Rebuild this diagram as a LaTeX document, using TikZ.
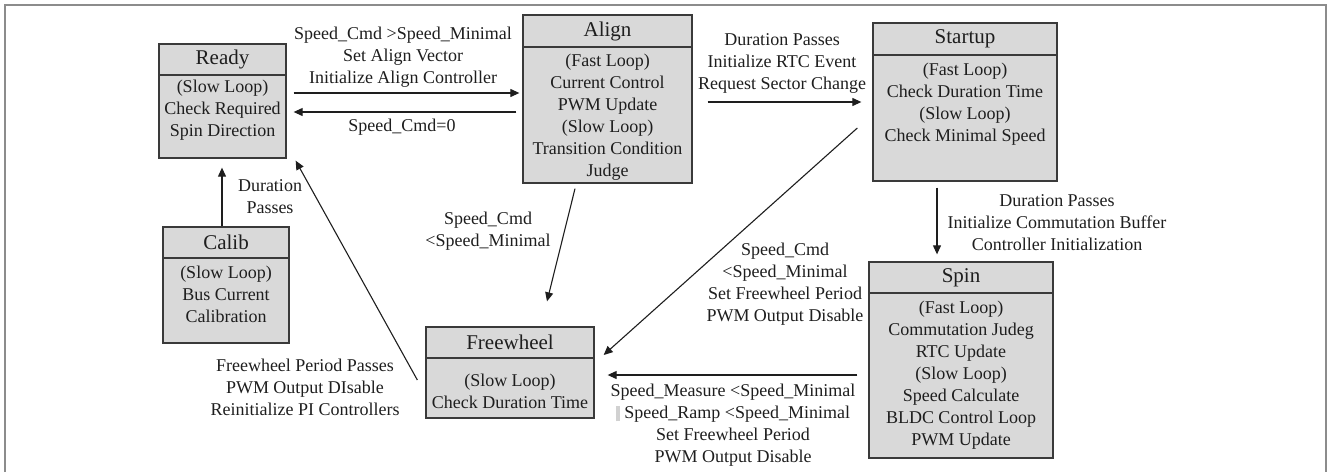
\documentclass[tikz,border=0pt]{standalone}
\usepackage{fontspec}
\setmainfont{Liberation Serif}
\usetikzlibrary{calc,arrows.meta}
\definecolor{boxfill}{HTML}{D9D9D9}
\definecolor{boxline}{HTML}{3A3A3A}
\definecolor{txt}{HTML}{1E1E1E}
\definecolor{framecol}{HTML}{8C8C8C}
\begin{document}
\begin{tikzpicture}[x=1pt,y=-1pt,
  statebox/.style={draw=boxline, fill=boxfill, line width=1.3pt, inner sep=0pt, rectangle},
  divider/.style={draw=boxline, line width=2pt},
  title/.style={font=\fontsize{21}{24}\selectfont, text=txt, inner sep=0pt},
  body/.style={font=\fontsize{18}{22}\selectfont, text=txt, align=center, inner sep=0pt},
  lbl/.style={font=\fontsize{18}{22}\selectfont, text=txt, align=center, inner sep=0pt},
  arr/.style={draw=txt, line width=1.1pt, -{Triangle[length=9pt,width=8pt]}},
  framestyle/.style={draw=framecol, line width=1.5pt},
]
\useasboundingbox (0,0) rectangle (1328,472);
\draw[framestyle] (5,472) -- (5,5) -- (1326,5) -- (1326,472);

% state boxes
\node[statebox, minimum width=127pt, minimum height=114pt] (ready) at (222.5,101) {};
\node[statebox, minimum width=169pt, minimum height=168pt] (align) at (607.5,99) {};
\node[statebox, minimum width=184pt, minimum height=158pt] (startup) at (965,102) {};
\node[statebox, minimum width=126pt, minimum height=116pt] (calib) at (226,285) {};
\node[statebox, minimum width=168pt, minimum height=91pt] (freewheel) at (510,372.5) {};
\node[statebox, minimum width=184pt, minimum height=196pt] (spin) at (961,360) {};

% header dividers
\draw[divider] (ready.west |- 0,75) -- (ready.east |- 0,75);
\draw[divider] (align.west |- 0,47) -- (align.east |- 0,47);
\draw[divider] (startup.west |- 0,55) -- (startup.east |- 0,55);
\draw[divider] (calib.west |- 0,258) -- (calib.east |- 0,258);
\draw[divider] (freewheel.west |- 0,358) -- (freewheel.east |- 0,358);
\draw[divider] (spin.west |- 0,293) -- (spin.east |- 0,293);

% titles
\node[title] (readyT) at (222.5,59.5) {Ready};
\node[title] (alignT) at (607.5,31) {Align};
\node[title] (startupT) at (965,39) {Startup};
\node[title] (calibT) at (226,242.5) {Calib};
\node[title] (freewheelT) at (510,342.5) {Freewheel};
\node[title] (spinT) at (961,277.5) {Spin};

% bodies
\node[body] (readyB) at (222.5,110) {(Slow Loop)\\Check Required\\Spin Direction};
\node[body] (alignB) at (607.5,117) {(Fast Loop)\\Current Control\\PWM Update\\(Slow Loop)\\Transition Condition\\Judge};
\node[body] (startupB) at (965,104) {(Fast Loop)\\Check Duration Time\\(Slow Loop)\\Check Minimal Speed};
\node[body] (calibB) at (226,294.5) {(Slow Loop)\\Bus Current\\Calibration};
\node[body] (freewheelB) at (510,391.5) {(Slow Loop)\\Check Duration Time};
\node[body] (spinB) at (961,375) {(Fast Loop)\\Commutation Judeg\\RTC Update\\(Slow Loop)\\Speed Calculate\\BLDC Control Loop\\PWM Update};

% connectors
\draw[arr] ($(ready.east)+(7,-8)$) -- ($(align.west)+(-3,-6)$);
\draw[arr] ($(align.west)+(-6,13)$) -- ($(ready.east)+(7,11)$);
\draw[arr] ($(align.east)+(15,3)$) -- ($(startup.west)+(-11,0)$);
\draw[arr] ($(startup.south)+(-28,6)$) -- ($(spin.north)+(-24,-7)$);
\draw[arr] ($(calib.north)+(-4,0)$) -- ($(ready.south)+(-0.5,9)$);
\draw[arr] ($(freewheel.west)+(-8,7.5)$) -- ($(ready.south east)+(9,2)$);
\draw[arr] ($(align.south)+(-32.5,5)$) -- ($(freewheel.north)+(37,-25)$);
\draw[arr] ($(startup.west)+(-15,26)$) -- ($(freewheel.east)+(9,-17.5)$);
\draw[arr] ($(spin.west)+(-11,15)$) -- ($(freewheel.east)+(13,2.5)$);

% connector labels
\node[lbl] (l1) at (403,57) {Speed\_Cmd >Speed\_Minimal\\Set Align Vector\\Initialize Align Controller};
\node[lbl] (l2) at (402,127) {Speed\_Cmd=0};
\node[lbl] (l3) at (782,63.5) {Duration Passes\\Initialize RTC Event\\Request Sector Change};
\node[lbl] (l4) at (1057,223) {Duration Passes\\Initialize Commutation Buffer\\Controller Initialization};
\node[lbl] (l5) at (270,197) {Duration\\Passes};
\node[lbl] (l6) at (305,387) {Freewheel Period Passes\\PWM Output DIsable\\Reinitialize PI Controllers};
\node[lbl] (l7) at (488,231) {Speed\_Cmd\\<Speed\_Minimal};
\node[lbl] (l8) at (785,284.5) {Speed\_Cmd\\<Speed\_Minimal\\Set Freewheel Period\\PWM Output Disable};
\node[lbl] (l9) at (733,425) {Speed\_Measure <Speed\_Minimal\\{\color{black!18}\rule[-3pt]{4pt}{15pt}} Speed\_Ramp <Speed\_Minimal\\Set Freewheel Period\\PWM Output Disable};
\end{tikzpicture}
\end{document}
